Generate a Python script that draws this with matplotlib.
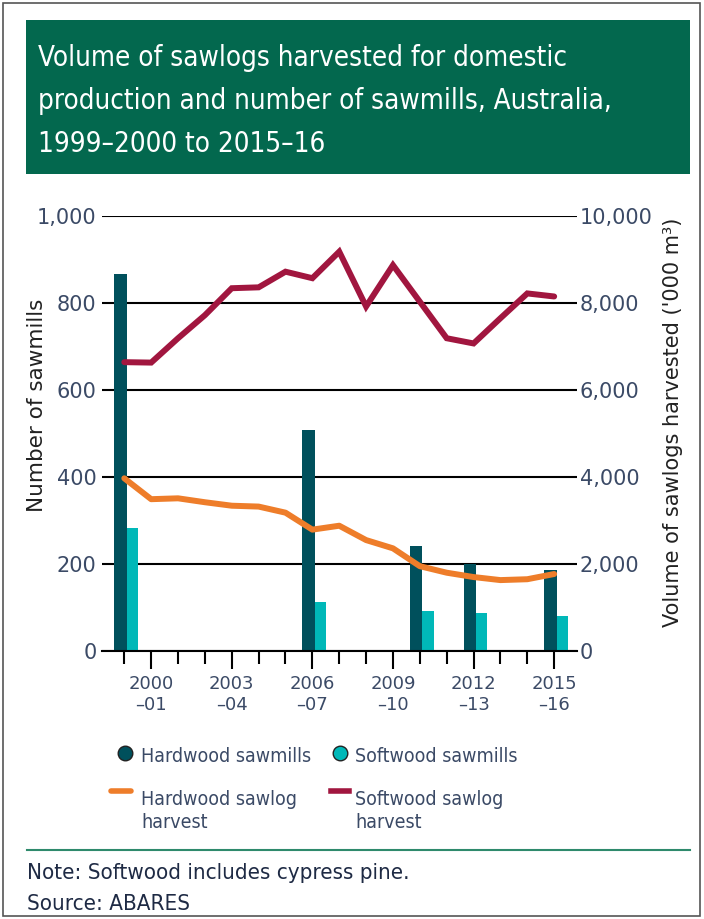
import matplotlib
matplotlib.use("Agg")
import matplotlib.pyplot as plt
from matplotlib import font_manager
from matplotlib.lines import Line2D
from matplotlib.patches import Rectangle
from matplotlib.ticker import FixedLocator, FuncFormatter

# data
years = ["1999–2000", "2000–01", "2001–02", "2002–03", "2003–04", "2004–05",
         "2005–06", "2006–07", "2007–08", "2008–09", "2009–10", "2010–11",
         "2011–12", "2012–13", "2013–14", "2014–15", "2015–16"]
labelled_years = ["2000–01", "2003–04", "2006–07", "2009–10", "2012–13", "2015–16"]

mill_years = ["1999–2000", "2006–07", "2010–11", "2012–13", "2015–16"]
hardwood_mills = [866, 507, 241, 200, 186]
softwood_mills = [282, 112, 92, 87, 81]

# '000 m3
hardwood_harvest = [3970, 3490, 3510, 3420, 3340, 3320, 3180, 2790, 2880,
                    2550, 2360, 1950, 1800, 1700, 1630, 1650, 1770]
softwood_harvest = [6640, 6630, 7190, 7720, 8340, 8360, 8720, 8570, 9180,
                    7920, 8870, 8030, 7190, 7070, 7650, 8220, 8150]

title_lines = ["Volume of sawlogs harvested for domestic",
               "production and number of sawmills, Australia,",
               "1999–2000 to 2015–16"]

HARD_BAR = "#00505c"
SOFT_BAR = "#00b8b8"
HARD_LINE = "#ee7d2a"
SOFT_LINE = "#a1163f"
GREEN = "#03684e"
TXT = "#3b4a66"


def pick_narrow_font():
    """Look for a regular condensed/narrow face, else fall back to Roboto."""
    good = []
    for f in font_manager.fontManager.ttflist:
        name = f.fname.lower()
        if not ("condensed" in name or "narrow" in name or f.stretch in ("condensed", "semi-condensed")):
            continue
        if any(k in name for k in ("bold", "italic", "oblique", "light", "thin", "black",
                                   "medium", "semibold", "extra", "mono", "serif")):
            continue
        if "semicondensed" in name or "semi-condensed" in name:
            continue
        good.append(f.fname)
    if good:
        good.sort(key=len)
        return font_manager.FontProperties(fname=good[0])
    return font_manager.FontProperties(family="Roboto")


NARROW = pick_narrow_font()

W, H = 704, 919


def fx(px):
    return px / W


def fy(py):
    return 1 - py / H


fig = plt.figure(figsize=(W / 100, H / 100), dpi=100)
renderer = fig.canvas.get_renderer()


def fit_width(texts, target_px):
    """Scale the font size of a group of texts so the first one spans target_px."""
    w = texts[0].get_window_extent(renderer).width
    size = texts[0].get_fontsize() * target_px / w
    for t in texts:
        t.set_fontsize(size)


def narrow_text(x, y, s, size, color, **kw):
    t = fig.text(x, y, s, color=color, va="baseline", ha="left", **kw)
    t.set_fontproperties(NARROW)
    t.set_fontsize(size)
    return t


# outer frame and title box
fig.add_artist(Rectangle((fx(3), fy(916)), fx(697), 913 / H, transform=fig.transFigure,
                         fill=False, edgecolor="#555555", lw=1.2))
fig.add_artist(Rectangle((fx(26), fy(174)), fx(664), 154 / H, transform=fig.transFigure,
                         facecolor=GREEN, edgecolor="none"))
title_texts = [narrow_text(fx(38), fy(66 + 43 * i), line, 21.5, "white")
               for i, line in enumerate(title_lines)]
fit_width(title_texts, 527)

# chart
ax = fig.add_axes([fx(102), fy(651), fx(475), 435 / H])
ax2 = ax.twinx()

idx = {y: i for i, y in enumerate(years)}
xs = list(range(len(years)))
mx = [idx[y] for y in mill_years]

ax.bar([x - 0.14 for x in mx], hardwood_mills, width=0.46, color=HARD_BAR, zorder=2)
ax.bar([x + 0.30 for x in mx], softwood_mills, width=0.42, color=SOFT_BAR, zorder=2)

ax2.plot(xs, softwood_harvest, color=SOFT_LINE, lw=4.3, solid_joinstyle="miter",
         solid_capstyle="round")
ax2.plot(xs, hardwood_harvest, color=HARD_LINE, lw=4.3, solid_joinstyle="round",
         solid_capstyle="round")

ax.set_xlim(-0.83, 16.85)
ax.set_ylim(0, 1000)
ax2.set_ylim(0, 10000)

ax.set_yticks([0, 200, 400, 600, 800, 1000])
ax.yaxis.set_major_formatter(FuncFormatter(lambda v, p: f"{int(v):,}"))
ax2.set_yticks([0, 2000, 4000, 6000, 8000, 10000])
ax2.yaxis.set_major_formatter(FuncFormatter(lambda v, p: f"{int(v):,}"))

ax.set_axisbelow(True)
ax.yaxis.grid(True, color="black", lw=1.5)

major = [idx[y] for y in labelled_years]
ax.xaxis.set_major_locator(FixedLocator(major))
ax.xaxis.set_minor_locator(FixedLocator([i for i in xs if i not in major]))
ax.set_xticklabels([y.replace("–", "\n–") for y in labelled_years])

for a in (ax, ax2):
    for s in a.spines.values():
        s.set_visible(False)
ax.spines["bottom"].set_visible(True)
ax.spines["bottom"].set_linewidth(1.5)

ax.tick_params(axis="x", which="major", length=13, width=1.5, pad=4.5,
               labelsize=13, labelcolor=TXT)
ax.tick_params(axis="x", which="minor", length=9, width=1.5)
for t in ax.get_xticklabels():
    t.set_linespacing(1.2)
ax.tick_params(axis="y", length=0, pad=4, labelsize=15, labelcolor=TXT)
ax2.tick_params(axis="y", length=0, pad=2, labelsize=15, labelcolor=TXT)

fig.text(fx(37), fy(405), "Number of sawmills", rotation=90, fontsize=15.5,
         ha="center", va="center", color="#222222")
fig.text(fx(673), fy(422), "Volume of sawlogs harvested ('000 m³)", rotation=90,
         fontsize=15, ha="center", va="center", color="#222222")

# legend
fig.add_artist(Line2D([fx(125)], [fy(753)], marker="o", markersize=10.5,
                      markerfacecolor=HARD_BAR, markeredgecolor="#222222",
                      transform=fig.transFigure))
fig.add_artist(Line2D([fx(340)], [fy(753)], marker="o", markersize=10.5,
                      markerfacecolor=SOFT_BAR, markeredgecolor="#222222",
                      transform=fig.transFigure))
fig.add_artist(Line2D([fx(111), fx(131)], [fy(791), fy(791)], color=HARD_LINE, lw=4,
                      solid_capstyle="round", transform=fig.transFigure))
fig.add_artist(Line2D([fx(331), fx(349)], [fy(791), fy(791)], color=SOFT_LINE, lw=4,
                      transform=fig.transFigure))
legend_texts = [
    narrow_text(fx(141), fy(762), "Hardwood sawmills", 16, TXT),
    narrow_text(fx(355), fy(762), "Softwood sawmills", 16, TXT),
    narrow_text(fx(141), fy(805), "Hardwood sawlog", 16, TXT),
    narrow_text(fx(141), fy(828), "harvest", 16, TXT),
    narrow_text(fx(355), fy(805), "Softwood sawlog", 16, TXT),
    narrow_text(fx(355), fy(828), "harvest", 16, TXT),
]
fit_width(legend_texts, 170)

# notes
fig.add_artist(Line2D([fx(27), fx(690)], [fy(850), fy(850)], color="#2e8a6c", lw=1.5,
                      transform=fig.transFigure))
note_texts = [
    narrow_text(fx(27), fy(879), "Note: Softwood includes cypress pine.", 16, "#1e2a44"),
    narrow_text(fx(27), fy(910), "Source: ABARES", 16, "#1e2a44"),
]
fit_width(note_texts, 383)

fig.savefig("out.png", dpi=100)
